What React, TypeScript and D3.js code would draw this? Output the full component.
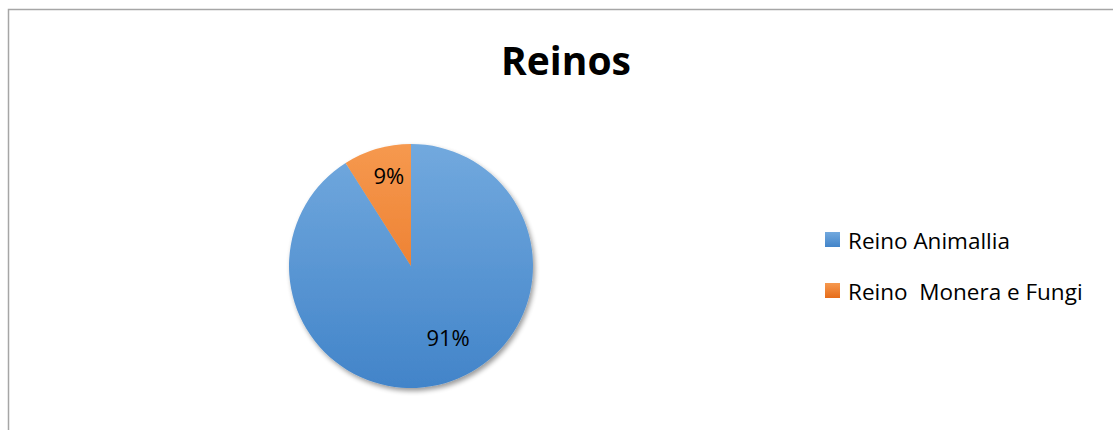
import React from 'react';
import * as d3 from 'd3';

const categories = ['Reino Animallia', 'Reino  Monera e Fungi'];
const values = [91, 9];
const labels = ['91%', '9%'];

const colors = [
  { top: '#72a9de', bottom: '#4284c9' },
  { top: '#f6994f', bottom: '#e66c19' },
];

const W = 1113;
const H = 430;

export default function App() {
  const cx = 411;
  const cy = 266;
  const R = 122;

  const pie = d3.pie<number>().sort(null);
  const arcs = pie(values);

  const arc = d3.arc<d3.PieArcDatum<number>>().innerRadius(0).outerRadius(R);
  const labelArc = [
    d3.arc<d3.PieArcDatum<number>>().innerRadius(R * 0.62).outerRadius(R * 0.62),
    d3.arc<d3.PieArcDatum<number>>().innerRadius(R * 0.74).outerRadius(R * 0.74),
  ];

  const font = '"Open Sans", sans-serif';

  return (
    <svg
      width={W}
      height={H}
      style={{ position: 'absolute', left: 0, top: 0, background: '#fff' }}
    >
      <defs>
        {colors.map((c, i) => (
          <linearGradient
            key={i}
            id={`g${i}`}
            gradientUnits="userSpaceOnUse"
            x1={0}
            y1={-R}
            x2={0}
            y2={R}
          >
            <stop offset="0%" stopColor={c.top} />
            <stop offset="100%" stopColor={c.bottom} />
          </linearGradient>
        ))}
        {colors.map((c, i) => (
          <linearGradient key={`l${i}`} id={`lg${i}`} x1="0" y1="0" x2="0" y2="1">
            <stop offset="0%" stopColor={c.top} />
            <stop offset="100%" stopColor={c.bottom} />
          </linearGradient>
        ))}
        <filter id="shadow" x="-20%" y="-20%" width="140%" height="140%">
          <feGaussianBlur in="SourceAlpha" stdDeviation="2.5" />
          <feOffset dx="2" dy="3" result="b" />
          <feComponentTransfer>
            <feFuncA type="linear" slope="0.4" />
          </feComponentTransfer>
          <feMerge>
            <feMergeNode />
            <feMergeNode in="SourceGraphic" />
          </feMerge>
        </filter>
      </defs>

      <rect x={8.5} y={9.5} width={W + 10} height={H + 10} fill="#fff" stroke="#a6a6a6" strokeWidth={1.5} />

      <text x={566} y={75} textAnchor="middle" fontFamily={font} fontWeight={700} fontSize={39} fill="#000">
        Reinos
      </text>

      <g transform={`translate(${cx},${cy})`} filter="url(#shadow)">
        {arcs.map((a, i) => (
          <path key={i} d={arc(a) || ''} fill={`url(#g${i})`} />
        ))}
      </g>

      <g transform={`translate(${cx},${cy})`}>
        {arcs.map((a, i) => {
          const [x, y] = labelArc[i].centroid(a);
          return (
            <text
              key={i}
              x={i === 0 ? x + 16 : x + 3}
              y={i === 0 ? y - 2 : y - 4}
              textAnchor="middle"
              dominantBaseline="central"
              fontFamily={font}
              fontSize={22}
              fill="#000"
            >
              {labels[i]}
            </text>
          );
        })}
      </g>

      <g transform="translate(825,232)">
        {categories.map((c, i) => (
          <g key={i} transform={`translate(0,${i * 51})`}>
            <rect width={15} height={15} fill={`url(#lg${i})`} />
            <text x={23} y={8} dominantBaseline="central" fontFamily={font} fontSize={22.5} fill="#000" style={{ whiteSpace: 'pre' }}>
              {c}
            </text>
          </g>
        ))}
      </g>
    </svg>
  );
}
